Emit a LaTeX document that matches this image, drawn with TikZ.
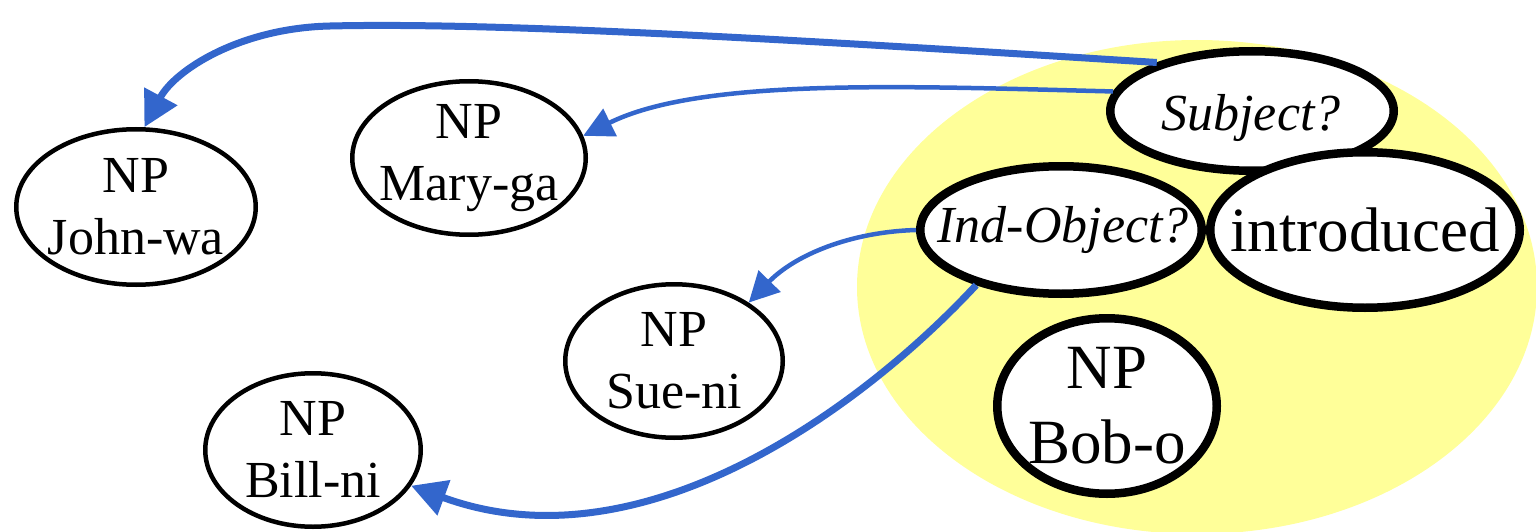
\documentclass[tikz,border=0pt]{standalone}
\usepackage{fontspec}
\setmainfont{Liberation Serif}
\usetikzlibrary{shapes.geometric,arrows.meta}
\definecolor{hl}{RGB}{255,255,153}
\definecolor{arr}{RGB}{51,102,204}
\begin{document}
\begin{tikzpicture}[x=1pt,y=-1pt,
  npbox/.style={ellipse,draw,line width=4.5pt,fill=white,inner sep=0pt},
  bigbox/.style={ellipse,draw,line width=8.5pt,fill=white,inner sep=0pt},
  lbl/.style={align=center,inner sep=0pt,font=\fontsize{52}{62}\selectfont},
  biglbl/.style={align=center,inner sep=0pt,font=\fontsize{63}{75}\selectfont},
  thickarrow/.style={draw=arr,line width=7pt,-{Triangle[length=35pt,width=36pt]}},
  thinarrow/.style={draw=arr,line width=4.5pt,-{Triangle[length=30pt,width=30pt]}}]
\useasboundingbox (0,0) rectangle (1536,532);
% yellow region
\fill[hl] (1197,287) ellipse [x radius=340, y radius=247];
% left NP nodes
\node[npbox,minimum width=239.5pt,minimum height=155.5pt] (jw) at (136,207) {};
\node[lbl] (tjw) at (jw) {NP\\John-wa};
\node[npbox,minimum width=233.5pt,minimum height=153.5pt] (mg) at (469,158) {};
\node[lbl] (tmg) at (mg) {NP\\Mary-ga};
\node[npbox,minimum width=217.5pt,minimum height=153.5pt] (sn) at (674,361) {};
\node[lbl] (tsn) at (sn) {NP\\Sue-ni};
\node[npbox,minimum width=215.5pt,minimum height=153.5pt] (bn) at (313,450) {};
\node[lbl] (tbn) at (bn) {NP\\Bill-ni};
% yellow cluster
\node[bigbox,minimum width=283.5pt,minimum height=119.5pt] (subj) at (1252,111) {};
\node[lbl,font=\fontsize{52}{62}\selectfont\itshape] (tsubj) at (1251,118) {Subject?};
\node[bigbox,minimum width=281.5pt,minimum height=127.5pt] (ind) at (1061,230) {};
\node[lbl,font=\fontsize{52}{62}\selectfont\itshape] (tind) at (1063,230) {Ind-Object?};
\node[bigbox,minimum width=309.5pt,minimum height=155.5pt] (intr) at (1365,230) {};
\node[biglbl] (tintr) at (intr) {introduced};
\node[bigbox,minimum width=219.5pt,minimum height=175.5pt] (bob) at (1107,406) {};
\node[biglbl] (tbob) at (bob) {NP\\Bob-o};
% connectors
\draw[thickarrow] (subj.153) .. controls (800,40) and (500,22) .. (330,26)
   .. controls (240,28) and (175,70) .. (jw.84);
\draw[thinarrow] (subj.172) .. controls (900,86) and (700,78) .. (mg.11);
\draw[thinarrow] (ind.180) .. controls (850,232) and (795,255) .. (sn.38);
\draw[thickarrow] (ind.213) .. controls (860,410) and (640,570) .. (bn.-20);
\end{tikzpicture}
\end{document}
